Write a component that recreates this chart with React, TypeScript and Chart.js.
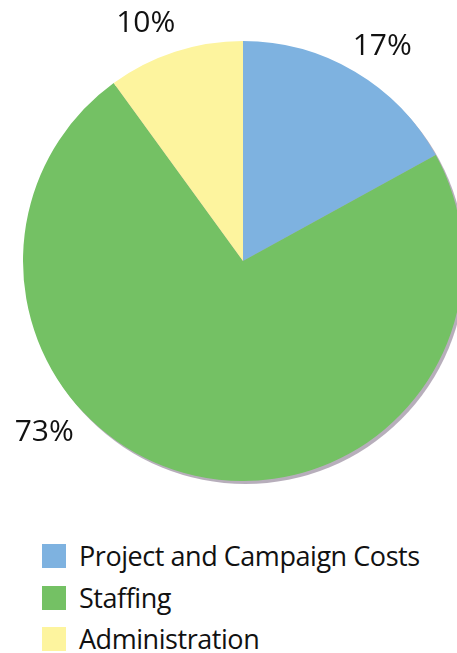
import React, { useEffect, useRef } from "react";
import { Chart, registerables } from "chart.js";

Chart.register(...registerables);

const categories = ["Project and Campaign Costs", "Staffing", "Administration"];
const shares = [17, 73, 10];
const sliceColors = ["#7eb2e0", "#74c164", "#fdf49e"];
// label placement: angle (deg, clockwise from top) and distance as fraction of radius
const labelAngles = [32.9, -130.6, -22.2];
const labelDistances = [1.165, 1.19, 1.17];

const FONT = "'Open Sans', 'Noto Sans', sans-serif";

const shadowAndLabels = {
  id: "shadowAndLabels",
  beforeDatasetsDraw(chart: any) {
    const meta = chart.getDatasetMeta(0);
    const arc = meta.data[0];
    if (!arc) return;
    const { x, y, outerRadius } = arc.getProps(["x", "y", "outerRadius"], true);
    const ctx = chart.ctx;
    ctx.save();
    ctx.fillStyle = "rgba(170,160,175,0.85)";
    ctx.beginPath();
    ctx.arc(x + 2.5, y + 3, outerRadius, 0, Math.PI * 2);
    ctx.fill();
    ctx.restore();
  },
  afterDatasetsDraw(chart: any) {
    const meta = chart.getDatasetMeta(0);
    const ctx = chart.ctx;
    ctx.save();
    ctx.fillStyle = "#111";
    ctx.font = `30px ${FONT}`;
    ctx.textAlign = "center";
    ctx.textBaseline = "middle";
    meta.data.forEach((el: any, i: number) => {
      const { x, y, outerRadius } = el.getProps(["x", "y", "outerRadius"], true);
      const a = (labelAngles[i] * Math.PI) / 180;
      const r = outerRadius * labelDistances[i];
      ctx.fillText(`${shares[i]}%`, x + Math.sin(a) * r, y - Math.cos(a) * r + 1);
    });
    ctx.restore();
  },
};

export default function App() {
  const canvasRef = useRef<HTMLCanvasElement | null>(null);

  useEffect(() => {
    document.body.style.margin = "0";
    document.body.style.overflow = "hidden";
    document.documentElement.style.overflow = "hidden";
    const canvas = canvasRef.current;
    if (!canvas) return;
    const chart = new Chart(canvas, {
      type: "pie",
      data: {
        labels: categories,
        datasets: [
          {
            data: shares,
            backgroundColor: sliceColors,
            borderWidth: 0,
            hoverOffset: 0,
          },
        ],
      },
      options: {
        animation: false,
        responsive: false,
        rotation: 0,
        layout: { padding: { top: 41, bottom: 41, left: 0, right: 0 } },
        plugins: {
          legend: { display: false },
          tooltip: { enabled: false },
        },
      },
      plugins: [shadowAndLabels],
    });
    return () => chart.destroy();
  }, []);

  return (
    <div style={{ position: "relative", width: 457, height: 653, overflow: "hidden", background: "#fff" }}>
      <canvas
        ref={canvasRef}
        width={486}
        height={522}
        style={{ position: "absolute", left: 0, top: 0, width: 486, height: 522 }}
      />
      <div style={{ position: "absolute", left: 42, top: 544, fontFamily: FONT }}>
        {categories.map((c, i) => (
          <div
            key={c}
            style={{ display: "flex", alignItems: "center", height: 41.5 }}
          >
            <div
              style={{
                width: 24,
                height: 24,
                background: sliceColors[i],
                alignSelf: "flex-start",
              }}
            />
            <span
              style={{
                marginLeft: 13,
                fontSize: 27,
                lineHeight: "24px",
                color: "#111",
                alignSelf: "flex-start",
                whiteSpace: "nowrap",
                letterSpacing: -0.45,
              }}
            >
              {c}
            </span>
          </div>
        ))}
      </div>
    </div>
  );
}
